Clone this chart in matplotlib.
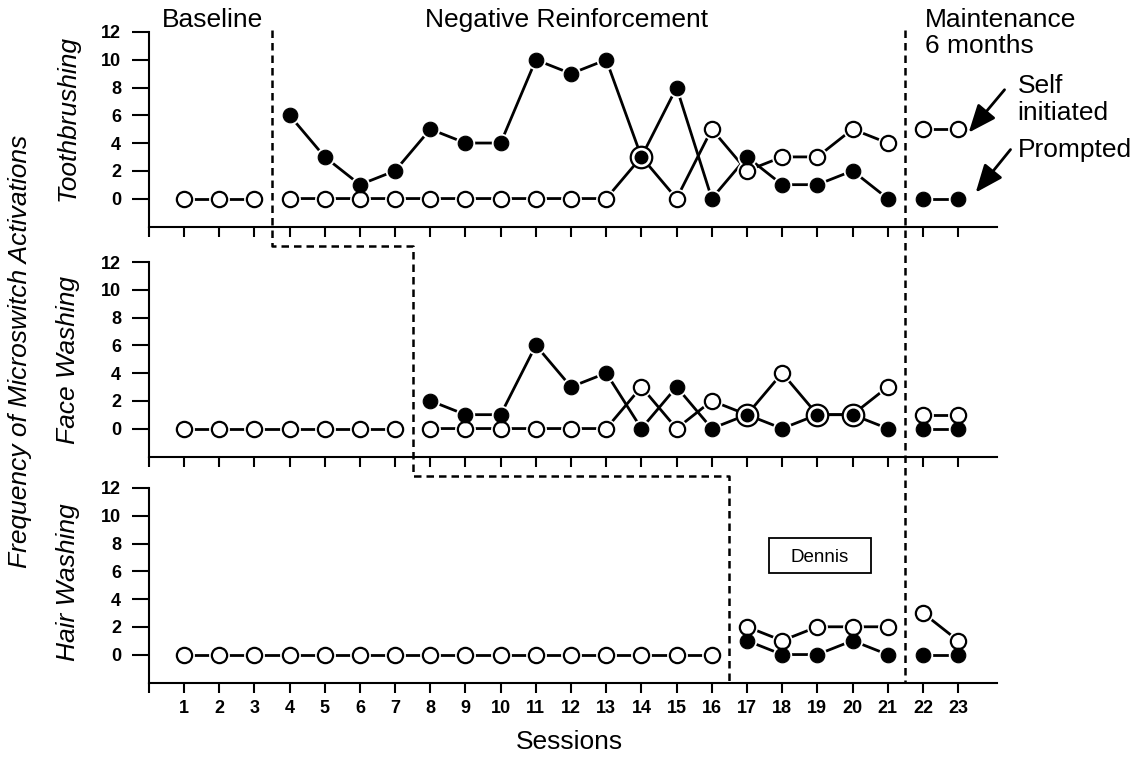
import numpy as np
import matplotlib
matplotlib.use("Agg")
import matplotlib.pyplot as plt
from matplotlib.lines import Line2D
from matplotlib.patches import Rectangle
from matplotlib.transforms import blended_transform_factory

plt.rcParams["font.family"] = ["Liberation Sans", "DejaVu Sans"]

nan = np.nan

# Sessions and tick labels
sessions = np.arange(1, 24)
x_ticks = np.arange(0, 24)
x_tick_labels = [""] + [str(s) for s in sessions]
y_ticks = [0, 2, 4, 6, 8, 10, 12]

panel_names = ["Toothbrushing", "Face Washing", "Hair Washing"]

# Self initiated (open circles) and prompted (filled circles) activations
tooth_self = [0, 0, 0, 0, 0, 0, 0, 0, 0, 0, 0, 0, 0, 3, 0, 5, 2, 3, 3, 5, 4, 5, 5]
tooth_prompt = [nan, nan, nan, 6, 3, 1, 2, 5, 4, 4, 10, 9, 10, 3, 8, 0, 3, 1, 1, 2, 0, 0, 0]

face_self = [0, 0, 0, 0, 0, 0, 0, 0, 0, 0, 0, 0, 0, 3, 0, 2, 1, 4, 1, 1, 3, 1, 1]
face_prompt = [nan, nan, nan, nan, nan, nan, nan, 2, 1, 1, 6, 3, 4, 0, 3, 0, 1, 0, 1, 1, 0, 0, 0]

hair_self = [0, 0, 0, 0, 0, 0, 0, 0, 0, 0, 0, 0, 0, 0, 0, 0, 2, 1, 2, 2, 2, 3, 1]
hair_prompt = [nan, nan, nan, nan, nan, nan, nan, nan, nan, nan, nan, nan, nan, nan, nan, nan,
               1, 0, 0, 1, 0, 0, 0]

self_data = [tooth_self, face_self, hair_self]
prompt_data = [tooth_prompt, face_prompt, hair_prompt]

# Phase changes: start of intervention per panel, maintenance for all
phase_starts = [3.5, 7.5, 16.5]
maintenance_start = 21.5

# Layout in pixels of the 1148x759 canvas
W, H = 1148, 759
ax_left, ax_w, ax_h = 148.8, 848, 195
axes_tops = [32, 262, 488]
gap_ys = [246, 476]
label_ys = [0.559, 0.50, 0.515]


def phase_segments(y, cuts):
    """ Yields the (x, y) pieces of a series between phase lines. """
    y = np.asarray(y, dtype=float)
    edges = [0] + list(cuts) + [24]
    for lo, hi in zip(edges[:-1], edges[1:]):
        m = (sessions > lo) & (sessions < hi) & ~np.isnan(y)
        if m.any():
            yield sessions[m], y[m]


fig = plt.figure(figsize=(W / 100, H / 100), dpi=100)
axes = []
for i, top in enumerate(axes_tops):
    ax = fig.add_axes([ax_left / W, 1 - (top + ax_h) / H, ax_w / W, ax_h / H])
    axes.append(ax)

    sv = np.asarray(self_data[i], dtype=float)
    pv = np.asarray(prompt_data[i], dtype=float)
    cuts = [phase_starts[i], maintenance_start]

    for y in (sv, pv):
        for xs, ys in phase_segments(y, cuts):
            ax.plot(xs, ys, color="k", lw=2, zorder=2, solid_capstyle="butt")

    # white halos so the lines stop short of the circles
    ax.plot(sessions, sv, "o", ms=15, mfc="white", mec="none", zorder=3, clip_on=False)
    ax.plot(sessions, pv, "o", ms=14, mfc="white", mec="none", zorder=3, clip_on=False)

    ax.plot(sessions, sv, "o", ms=11, mfc="white", mec="k", mew=1.6, zorder=4, clip_on=False)
    ax.plot(sessions, pv, "o", ms=10.5, mfc="k", mec="k", mew=0.8, zorder=5, clip_on=False)

    # both series at the same value: ringed filled circle
    both = sv == pv
    ax.plot(sessions[both], sv[both], "o", ms=15.5, mfc="white", mec="k", mew=1.6, zorder=6)
    ax.plot(sessions[both], pv[both], "o", ms=9, mfc="k", mec="k", zorder=7)

    ax.set_xlim(0, 24.1)
    ax.set_ylim(-2.05, 12)
    ax.set_xticks(x_ticks)
    ax.set_xticklabels(x_tick_labels, fontweight="bold")
    ax.set_yticks(y_ticks)
    ax.set_yticklabels([str(v) for v in y_ticks], fontweight="bold")
    ax.spines["top"].set_visible(False)
    ax.spines["right"].set_visible(False)
    ax.spines["left"].set_linewidth(1.5)
    ax.spines["bottom"].set_linewidth(1.5)
    ax.tick_params(axis="y", direction="out", length=12, width=1.5, pad=8, labelsize=13)
    ax.tick_params(axis="x", direction="out", length=7, width=1.5, pad=5, labelsize=13,
                   labelbottom=(i == 2))
    ax.patch.set_visible(False)

    ax.text(-0.0953, label_ys[i], panel_names[i], rotation=90, transform=ax.transAxes,
            ha="center", va="center", fontsize=19, style="italic")

ax_top, ax_bot = axes[0], axes[2]

# Phase headings
ax_top.text(0.38, 12.37, "Baseline", ha="left", va="baseline", fontsize=19, clip_on=False)
ax_top.text(11.87, 12.37, "Negative Reinforcement", ha="center", va="baseline", fontsize=19,
            clip_on=False)
ax_top.text(22.05, 12.37, "Maintenance", ha="left", va="baseline", fontsize=19, clip_on=False)
ax_top.text(22.05, 10.50, "6 months", ha="left", va="baseline", fontsize=19, clip_on=False)

# Series labels with arrows
ax_top.text(24.69, 7.63, "Self", ha="left", va="baseline", fontsize=19, clip_on=False)
ax_top.text(24.69, 5.68, "initiated", ha="left", va="baseline", fontsize=19, clip_on=False)
ax_top.text(24.69, 3.02, "Prompted", ha="left", va="baseline", fontsize=19, clip_on=False)
arrow = dict(arrowstyle="-|>,head_length=0.85,head_width=0.35", color="k", lw=2,
             shrinkA=0, shrinkB=0, mutation_scale=20)
ax_top.annotate("", xy=(23.30, 4.75), xytext=(24.32, 7.84), arrowprops=arrow,
                annotation_clip=False)
ax_top.annotate("", xy=(23.50, 0.43), xytext=(24.49, 3.53), arrowprops=arrow,
                annotation_clip=False)

# Participant box
ax_bot.add_patch(Rectangle((17.62, 5.9), 2.9, 2.52, fc="white", ec="k", lw=1.3, zorder=5))
ax_bot.text(19.06, 7.16, "Dennis", ha="center", va="center_baseline", fontsize=13.5, zorder=6)

# Phase change lines across panels
trans = blended_transform_factory(ax_top.transData, fig.transFigure)
stair_x = [phase_starts[0], phase_starts[0], phase_starts[1], phase_starts[1],
           phase_starts[2], phase_starts[2]]
stair_y = [30, gap_ys[0], gap_ys[0], gap_ys[1], gap_ys[1], 683]
dash = dict(color="k", lw=1.8, linestyle=(0, (3, 2)), transform=trans)
fig.add_artist(Line2D(stair_x, [1 - p / H for p in stair_y], **dash))
fig.add_artist(Line2D([maintenance_start, maintenance_start],
                      [1 - 30 / H, 1 - 683 / H], **dash))

fig.text(20 / W, 1 - 351 / H, "Frequency of Microswitch Activations", rotation=90,
         ha="center", va="center", fontsize=19, style="italic")
fig.text(569 / W, 1 - 742 / H, "Sessions", ha="center", va="center", fontsize=19)

fig.savefig("out.png", dpi=100)
